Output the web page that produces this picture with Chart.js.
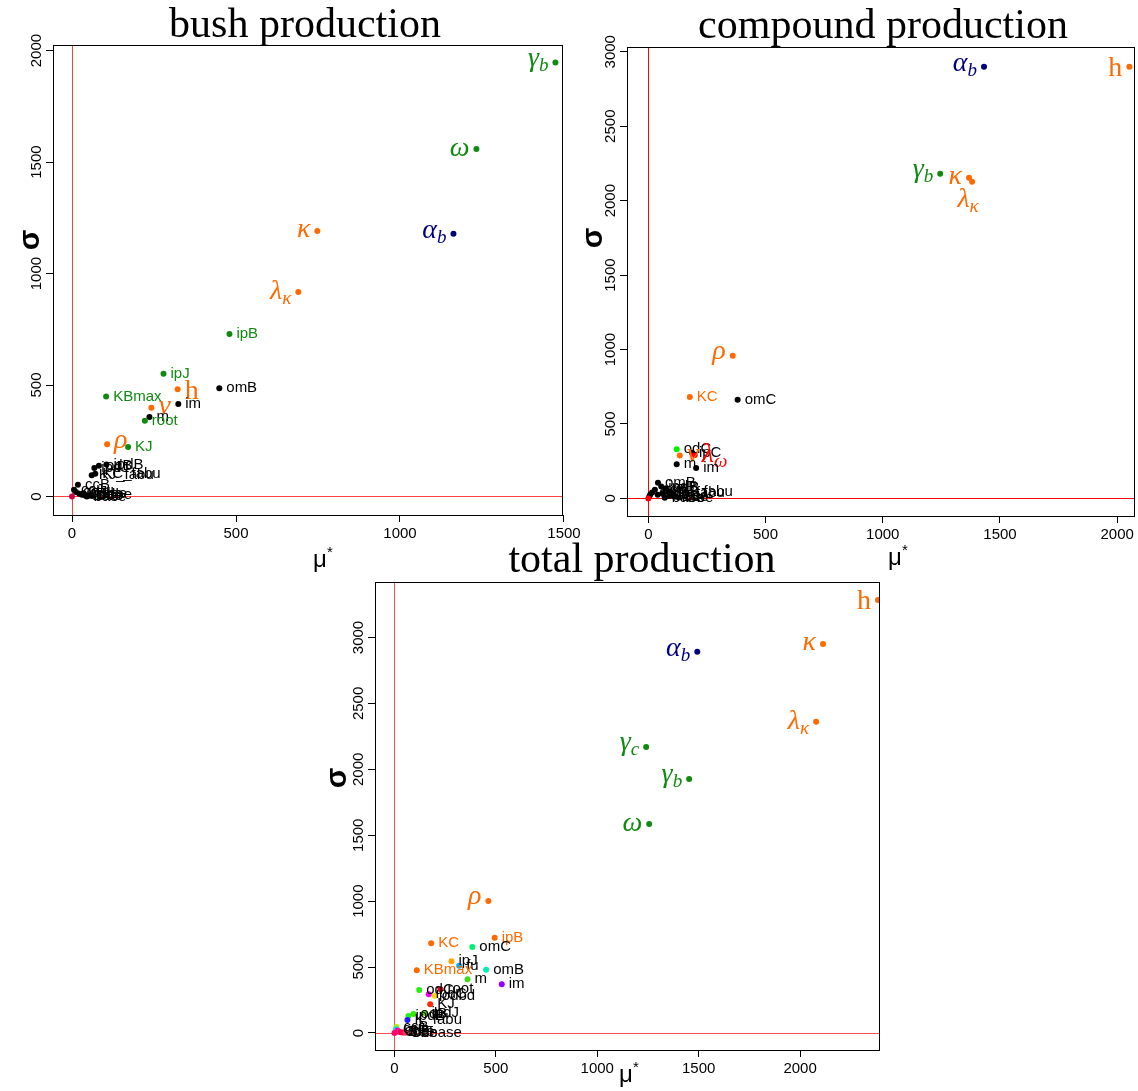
<!DOCTYPE html>
<html>
<head>
<meta charset="utf-8">
<script src="https://cdn.jsdelivr.net/npm/chart.js@4.4.1/dist/chart.umd.min.js"></script>
<style>
  body { margin: 0; background: #fff; }
  #wrap { position: relative; width: 1138px; height: 1091px; }
  #wrap canvas { position: absolute; }
</style>
</head>
<body>
<div id="wrap">
  <canvas id="bush" width="580" height="580" style="left:0;top:0"></canvas>
  <canvas id="compound" width="558" height="580" style="left:580px;top:0"></canvas>
  <canvas id="total" width="600" height="551" style="left:300px;top:540px"></canvas>
</div>
<script>
// --- DATA (mu* on x, sigma on y) ---
const bushLabels = ['γ_b', 'ω', 'κ', 'α_b', 'λ_κ', 'ipB', 'ipJ', 'h', 'omB', 'KBmax', 'ν', 'im', 'm', 'root', 'ρ', 'KJ',
  'odB', 'ipdB', 'ipdJ', 'KC_fabu', 'KJ_fabu', 'ccB', 'ccJ', 'odJ', 'KBbe', 'Jbe', 'Bbe', 'Cbe', 'ipdbe', 'odbe', 'base', ''];
const bushMu = [1474, 1233, 748, 1163, 690, 480, 279, 322, 449, 104, 242, 324, 236, 222, 107, 171,
  82, 105, 68, 71, 60, 18, 6, 12, 22, 30, 40, 50, 35, 60, 45, 0];
const bushSigma = [1946, 1559, 1191, 1178, 917, 729, 550, 481, 485, 448, 398, 415, 357, 340, 234, 222,
  138, 144, 128, 102, 95, 53, 30, 20, 12, 8, 5, 3, 14, 6, 0, 0];
const bushColour = ['g', 'g', 'o', 'n', 'o', 'g', 'g', 'o', 'k', 'g', 'o', 'k', 'k', 'g', 'o', 'g',
  'k', 'k', 'k', 'k', 'k', 'k', 'k', 'k', 'k', 'k', 'k', 'k', 'k', 'k', 'k', '#d0004a'];
const bushSide = { 'h': 'R', 'ν': 'R', 'ρ': 'R' };

const compoundLabels = ['α_b', 'h', 'γ_b', 'κ', 'λ_κ', 'ρ', 'KC', 'omC', 'odC', 'ν', 'ipC', 'λ_ω', 'm', 'im', 'omB',
  'ipdB', 'odB', 'ccB', 'KB_fabu', 'KJ_fabu', 'ccJ', 'odJ', 'ipdJ', 'Jbe', 'Bbe', 'Cbe', 'base', '', '', ''];
const compoundMu = [1432, 2052, 1245, 1368, 1381, 360, 177, 381, 121, 134, 186, 198, 121, 204, 41,
  55, 75, 28, 85, 62, 16, 40, 100, 92, 112, 130, 70, 8, 4, 0];
const compoundSigma = [2900, 2900, 2181, 2154, 2127, 958, 682, 662, 331, 288, 306, 292, 230, 205, 106,
  80, 68, 58, 45, 35, 40, 25, 30, 18, 12, 6, 4, 25, 12, 0];
const compoundColour = ['n', 'o', 'g', 'o', 'o', 'o', 'o', 'k', '#00ee00', 'o', 'k', 'r', 'k', 'k', 'k',
  'k', 'k', 'k', 'k', 'k', 'k', 'k', 'k', 'k', 'k', 'k', 'k', 'k', 'k', 'r'];
const compoundSide = { 'λ_κ': 'B', 'ν': 'R', 'λ_ω': 'R' };

const totalLabels = ['h', 'κ', 'α_b', 'λ_κ', 'γ_c', 'γ_b', 'ω', 'ρ', 'ipB', 'KC', 'omC', 'ipJ', 'fu', 'omB', 'KBmax',
  'm', 'im', 'odC', 'root', 'ipdC', 'odbd', 'KJ', 'ipdB', 'odB', 'K_fabu', 'ipdJ',
  'ccB', 'ccJ', 'odJ', 'Jbe', 'Bbe', 'Cbe', 'odbase', ''];
const totalMu = [2384, 2113, 1493, 2079, 1241, 1453, 1256, 463, 494, 181, 384, 281, 319, 452, 110,
  360, 529, 122, 227, 169, 199, 176, 69, 94, 64, 148,
  10, 8, 15, 22, 32, 42, 55, 0];
const totalSigma = [3285, 2951, 2891, 2360, 2170, 1927, 1586, 1002, 723, 681, 653, 544, 511, 480, 476,
  407, 370, 326, 332, 294, 283, 218, 129, 144, 99, 152,
  45, 28, 18, 10, 6, 3, 1, 0];
const totalColour = ['o', 'o', 'n', 'o', 'g', 'g', 'g', 'o', 'o', 'o', '#00ee76', '#ffa500', '#00b2ee', '#00eeb0', 'o',
  '#3ddc1f', '#9a00ff', '#2bee12', '#ee0022', '#ee00ee', '#ffd700', '#ff2a00', '#22ee22', '#33ee00', '#2020ff', '#66ee00',
  '#aaee00', '#00e5ee', '#ff00aa', '#ff1493', '#dd0066', '#ff0040', '#ff3366', '#ff0066'];
const totalSide = {};

const bushXTicks = [0, 500, 1000, 1500];
const bushYTicks = [0, 500, 1000, 1500, 2000];
const compoundXTicks = [0, 500, 1000, 1500, 2000];
const compoundYTicks = [0, 500, 1000, 1500, 2000, 2500, 3000];
const totalXTicks = [0, 500, 1000, 1500, 2000];
const totalYTicks = [0, 500, 1000, 1500, 2000, 2500, 3000];

// named colours used by R plot
const palette = { g: '#108a10', o: '#ff6a00', n: '#00007f', k: '#000000', r: '#ff0000' };
const dotColour = c => palette[c] || c;
const textColour = c => palette[c] || '#000000';

const SANS = '"Liberation Sans", Arial, sans-serif';
const SERIF = '"Liberation Serif", "Times New Roman", serif';

// "γ_b" -> ['γ','b'] ; plain names return null
function mathParts(t) {
  const m = t.match(/^([α-ωh])(?:_([a-zα-ω]))?$/);
  return m ? [m[1], m[2] || ''] : null;
}

function drawLabel(ctx, text, px, py, side, colour) {
  if (!text) return;
  ctx.fillStyle = colour;
  const parts = mathParts(text);
  if (!parts) {
    ctx.font = '15px ' + SANS;
    ctx.textBaseline = 'middle';
    ctx.textAlign = side === 'L' ? 'right' : 'left';
    ctx.fillText(text, side === 'L' ? px - 7 : px + 7, py);
    return;
  }
  const mainFont = (parts[0] === 'h' ? '' : 'italic ') + '28px ' + SERIF;
  const subFont = 'italic 19px ' + SERIF;
  ctx.textBaseline = 'alphabetic';
  ctx.textAlign = 'left';
  ctx.font = mainFont;
  const m1 = ctx.measureText(parts[0]);
  let w = m1.width, top = m1.actualBoundingBoxAscent, bot = m1.actualBoundingBoxDescent;
  if (parts[1]) {
    ctx.font = subFont;
    const m2 = ctx.measureText(parts[1]);
    w += m2.width;
    top = Math.max(top, m2.actualBoundingBoxAscent - 5);
    bot = Math.max(bot, m2.actualBoundingBoxDescent + 5);
  }
  let x0, base;
  if (side === 'L') { x0 = px - 7 - w; base = py + (top - bot) / 2; }
  else if (side === 'R') { x0 = px + 7; base = py + (top - bot) / 2; }
  else { x0 = px - w / 2 - 4; base = py + 6 + top; }
  ctx.font = mainFont;
  ctx.fillText(parts[0], x0, base);
  if (parts[1]) {
    ctx.font = subFont;
    ctx.fillText(parts[1], x0 + m1.width, base + 5);
  }
}

const rPlot = {
  id: 'rPlot',
  beforeDatasetsDraw(chart) {
    const p = chart.config.options.panel;
    const { ctx, chartArea: a, scales: { x, y } } = chart;
    ctx.save();
    ctx.beginPath(); ctx.rect(a.left, a.top, a.width, a.height); ctx.clip();
    ctx.strokeStyle = p.zeroColour; ctx.lineWidth = 1;
    const x0 = Math.round(x.getPixelForValue(0)) + 0.5;
    const y0 = Math.round(y.getPixelForValue(0)) + 0.5;
    ctx.beginPath();
    ctx.moveTo(x0, a.top); ctx.lineTo(x0, a.bottom);
    ctx.moveTo(a.left, y0); ctx.lineTo(a.right, y0);
    ctx.stroke();
    ctx.restore();
  },
  afterDatasetsDraw(chart) {
    const p = chart.config.options.panel;
    const { ctx, chartArea: a, scales: { x, y } } = chart;
    ctx.save();
    // point labels
    ctx.save();
    ctx.beginPath(); ctx.rect(a.left, a.top, a.width, a.height); ctx.clip();
    p.labels.forEach((t, i) => {
      const isMath = !!mathParts(t);
      const side = p.side[t] || (isMath ? 'L' : 'R');
      drawLabel(ctx, t, x.getPixelForValue(p.mu[i]), y.getPixelForValue(p.sigma[i]), side, textColour(p.colour[i]));
    });
    ctx.restore();
    // box
    ctx.strokeStyle = '#000'; ctx.lineWidth = 1;
    ctx.strokeRect(Math.round(a.left) + 0.5, Math.round(a.top) + 0.5, Math.round(a.width) - 1, Math.round(a.height));
    // y tick labels, rotated like R
    ctx.fillStyle = '#000';
    ctx.font = '15px ' + SANS;
    ctx.textAlign = 'center'; ctx.textBaseline = 'middle';
    p.yTicks.forEach(v => {
      ctx.save();
      ctx.translate(a.left - 16, y.getPixelForValue(v));
      ctx.rotate(-Math.PI / 2);
      ctx.fillText(String(v), 0, 0);
      ctx.restore();
    });
    // title
    ctx.font = '42px ' + SERIF;
    ctx.textBaseline = 'alphabetic';
    ctx.fillText(p.title, p.titleAt[0], p.titleAt[1]);
    // sigma
    ctx.save();
    ctx.translate(p.sigmaAt[0], p.sigmaAt[1]);
    ctx.rotate(-Math.PI / 2);
    ctx.font = 'bold 30px ' + SANS;
    ctx.textBaseline = 'middle';
    ctx.fillText('σ', 0, 0);
    ctx.restore();
    // mu*
    ctx.font = '24px ' + SANS;
    ctx.textAlign = 'left'; ctx.textBaseline = 'middle';
    const mw = ctx.measureText('μ').width;
    ctx.fillText('μ', p.muAt[0] - mw / 2 - 3, p.muAt[1]);
    ctx.font = '15px ' + SANS;
    ctx.fillText('*', p.muAt[0] + mw / 2 - 3, p.muAt[1] - 7);
    ctx.restore();
  }
};

function makePanel(id, p) {
  const canvas = document.getElementById(id);
  const W = canvas.width, H = canvas.height;
  const axisCommon = {
    type: 'linear',
    border: { display: false },
    grid: { display: true, drawOnChartArea: false, drawTicks: true, tickLength: 7, color: '#000', lineWidth: 1 }
  };
  return new Chart(canvas, {
    type: 'scatter',
    data: {
      datasets: [{
        data: p.mu.map((v, i) => ({ x: v, y: p.sigma[i] })),
        pointBackgroundColor: p.colour.map(dotColour),
        pointBorderWidth: 0,
        pointRadius: 3,
        pointHoverRadius: 3
      }]
    },
    options: {
      panel: p,
      responsive: false,
      animation: false,
      events: [],
      layout: { padding: { top: p.box.t, right: W - p.box.r, left: 0, bottom: 0 } },
      plugins: { legend: { display: false }, tooltip: { enabled: false }, title: { display: false } },
      scales: {
        x: {
          ...axisCommon,
          min: p.xRange[0], max: p.xRange[1],
          afterBuildTicks: ax => { ax.ticks = p.xTicks.map(v => ({ value: v })); },
          afterFit: ax => { ax.height = H - p.box.b; ax.paddingLeft = 0; ax.paddingRight = 0; },
          ticks: { autoSkip: false, maxRotation: 0, padding: 3, color: '#000', font: { family: SANS, size: 15 },
            callback: v => String(v) }
        },
        y: {
          ...axisCommon,
          min: p.yRange[0], max: p.yRange[1],
          afterBuildTicks: ax => { ax.ticks = p.yTicks.map(v => ({ value: v })); },
          afterFit: ax => { ax.width = p.box.l; ax.paddingTop = 0; ax.paddingBottom = 0; },
          ticks: { display: false }
        }
      }
    },
    plugins: [rPlot]
  });
}

makePanel('bush', {
  labels: bushLabels, mu: bushMu, sigma: bushSigma, colour: bushColour, side: bushSide,
  xTicks: bushXTicks, yTicks: bushYTicks, xRange: [-58, 1497], yRange: [-83, 2025],
  box: { l: 53, t: 45, r: 563, b: 515 }, zeroColour: 'rgba(255,0,0,0.75)',
  title: 'bush production', titleAt: [305, 37], sigmaAt: [31, 240], muAt: [323, 560]
});

makePanel('compound', {
  labels: compoundLabels, mu: compoundMu, sigma: compoundSigma, colour: compoundColour, side: compoundSide,
  xTicks: compoundXTicks, yTicks: compoundYTicks, xRange: [-91, 2076], yRange: [-118, 3032],
  box: { l: 47, t: 47, r: 556, b: 516 }, zeroColour: '#ff0000',
  title: 'compound production', titleAt: [303, 38], sigmaAt: [14, 238], muAt: [318, 558]
});

makePanel('total', {
  labels: totalLabels, mu: totalMu, sigma: totalSigma, colour: totalColour, side: totalSide,
  xTicks: totalXTicks, yTicks: totalYTicks, xRange: [-96, 2394], yRange: [-129, 3421],
  box: { l: 75, t: 42, r: 580, b: 510 }, zeroColour: 'rgba(255,0,0,0.7)',
  title: 'total production', titleAt: [342, 32], sigmaAt: [38, 238], muAt: [329, 535]
});
</script>
</body>
</html>
